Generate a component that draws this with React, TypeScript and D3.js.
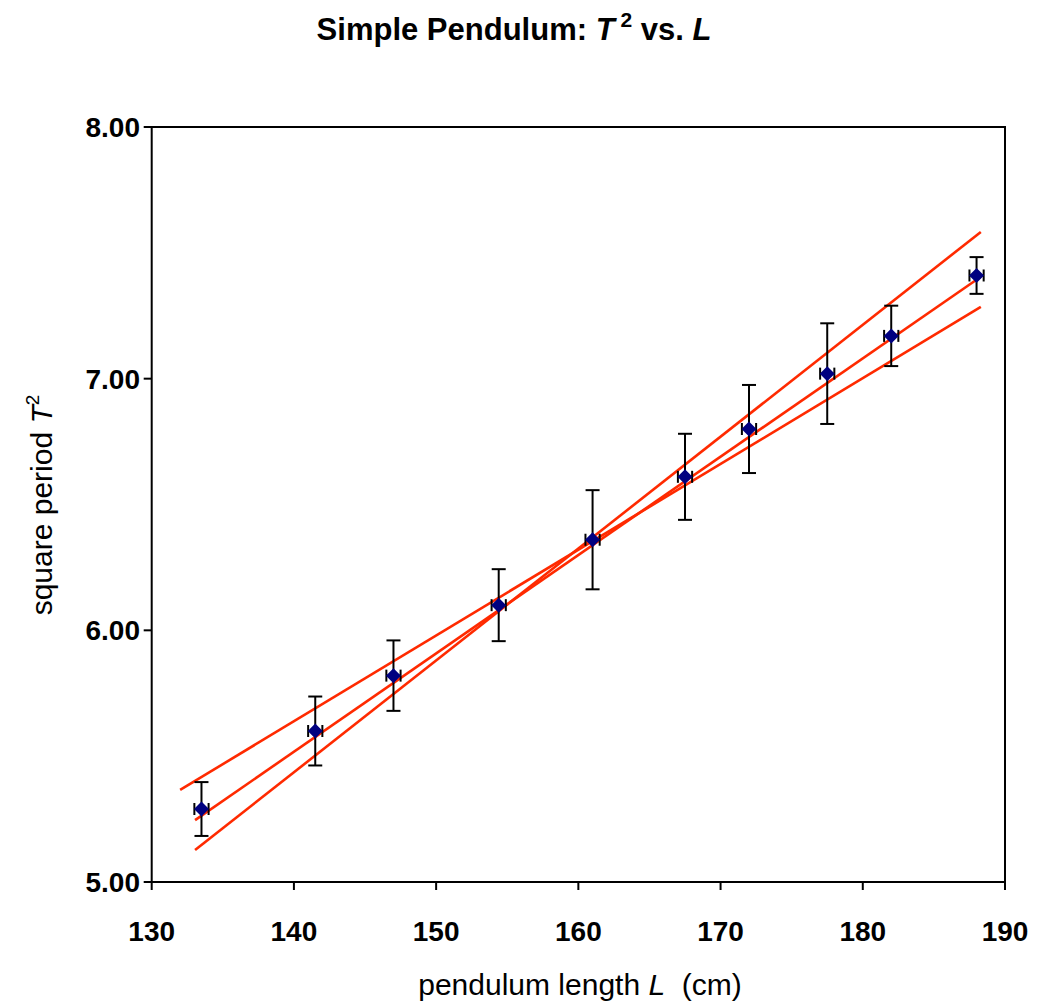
import React from "react";
import * as d3 from "d3";

// Data
const lengths = [133.5, 141.5, 147.0, 154.4, 161.0, 167.5, 172.0, 177.5, 182.0, 188.0];
const periodSquared = [5.29, 5.6, 5.82, 6.1, 6.36, 6.61, 6.8, 7.02, 7.17, 7.41];
const periodSquaredErr = [0.107, 0.137, 0.14, 0.143, 0.197, 0.171, 0.175, 0.2, 0.12, 0.073];
const lengthErr = [0.5, 0.5, 0.5, 0.5, 0.5, 0.5, 0.5, 0.5, 0.5, 0.5];

// Fit lines: [L start, T² start, L end, T² end]
const steepLine = [133.05, 5.127, 188.3, 7.583];
const bestLine = [133.05, 5.246, 188.3, 7.405];
const shallowLine = [132.0, 5.366, 188.3, 7.285];
const fitLines = [steepLine, bestLine, shallowLine];

const xTicks = [130, 140, 150, 160, 170, 180, 190];
const yTicks = [5, 6, 7, 8];

const W = 1048;
const H = 1003;
const left = 151.7;
const right = 1005;
const top = 127;
const bottom = 882;

export default function App() {
  const x = d3.scaleLinear().domain([130, 190]).range([left, right]);
  const y = d3.scaleLinear().domain([5, 8]).range([bottom, top]);
  const line = d3.line<[number, number]>().x((d) => x(d[0])).y((d) => y(d[1]));
  const pts = lengths.map((L, i) => ({ L, t: periodSquared[i], e: periodSquaredErr[i], le: lengthErr[i] }));
  const font = "Liberation Sans, Arial, sans-serif";
  const cap = 7;
  const hcap = 6;
  const dsz = 7.5;

  return (
    <svg width={W} height={H} style={{ position: "absolute", left: 0, top: 0, background: "#fff" }} fontFamily={font}>
      <rect x={0} y={0} width={W} height={H} fill="#fff" />
      {/* Title */}
      <text x={514} y={40} textAnchor="middle" fontSize={31} fontWeight="bold" fill="#000">
        Simple Pendulum:{" "}
        <tspan fontStyle="italic">T</tspan>
        <tspan dy={-13} fontSize={21}> 2</tspan>
        <tspan dy={13}> vs. </tspan>
        <tspan fontStyle="italic">L</tspan>
      </text>

      {/* Plot frame */}
      <rect x={left} y={top} width={right - left} height={bottom - top} fill="none" stroke="#000" strokeWidth={2} />

      {/* Y ticks */}
      {yTicks.map((t) => (
        <g key={"y" + t}>
          <line x1={left - 8} x2={left} y1={y(t)} y2={y(t)} stroke="#000" strokeWidth={2} />
          <text x={140} y={y(t)} dy="0.36em" textAnchor="end" fontSize={28} fontWeight="bold">
            {d3.format(".2f")(t)}
          </text>
        </g>
      ))}
      {/* X ticks */}
      {xTicks.map((t) => (
        <g key={"x" + t}>
          <line x1={x(t)} x2={x(t)} y1={bottom} y2={bottom + 8} stroke="#000" strokeWidth={2} />
          <text x={x(t)} y={941} textAnchor="middle" fontSize={28} fontWeight="bold">
            {t}
          </text>
        </g>
      ))}

      {/* Axis titles */}
      <text x={580} y={995} textAnchor="middle" fontSize={30} xmlSpace="preserve">
        pendulum length <tspan fontStyle="italic">L</tspan>  (cm)
      </text>
      <text transform={`translate(52,505) rotate(-90)`} textAnchor="middle" fontSize={30}>
        square period <tspan fontStyle="italic">T</tspan>
        <tspan dy={-13} fontSize={19}>2</tspan>
      </text>

      {/* Fit lines */}
      {fitLines.map((l, i) => (
        <path key={"l" + i} d={line([[l[0], l[1]], [l[2], l[3]]]) || ""} stroke="#ff2a00" strokeWidth={2.6} fill="none" />
      ))}

      {/* Error bars and points */}
      {pts.map((p, i) => (
        <g key={"p" + i}>
          <line x1={x(p.L)} x2={x(p.L)} y1={y(p.t - p.e)} y2={y(p.t + p.e)} stroke="#000" strokeWidth={2} />
          <line x1={x(p.L) - cap} x2={x(p.L) + cap} y1={y(p.t + p.e)} y2={y(p.t + p.e)} stroke="#000" strokeWidth={2} />
          <line x1={x(p.L) - cap} x2={x(p.L) + cap} y1={y(p.t - p.e)} y2={y(p.t - p.e)} stroke="#000" strokeWidth={2} />
          <line x1={x(p.L - p.le)} x2={x(p.L + p.le)} y1={y(p.t)} y2={y(p.t)} stroke="#000" strokeWidth={2} />
          <line x1={x(p.L - p.le)} x2={x(p.L - p.le)} y1={y(p.t) - hcap} y2={y(p.t) + hcap} stroke="#000" strokeWidth={2} />
          <line x1={x(p.L + p.le)} x2={x(p.L + p.le)} y1={y(p.t) - hcap} y2={y(p.t) + hcap} stroke="#000" strokeWidth={2} />
          <path
            d={`M${x(p.L)},${y(p.t) - dsz} L${x(p.L) + dsz},${y(p.t)} L${x(p.L)},${y(p.t) + dsz} L${x(p.L) - dsz},${y(p.t)} Z`}
            fill="#000080"
          />
        </g>
      ))}
    </svg>
  );
}
